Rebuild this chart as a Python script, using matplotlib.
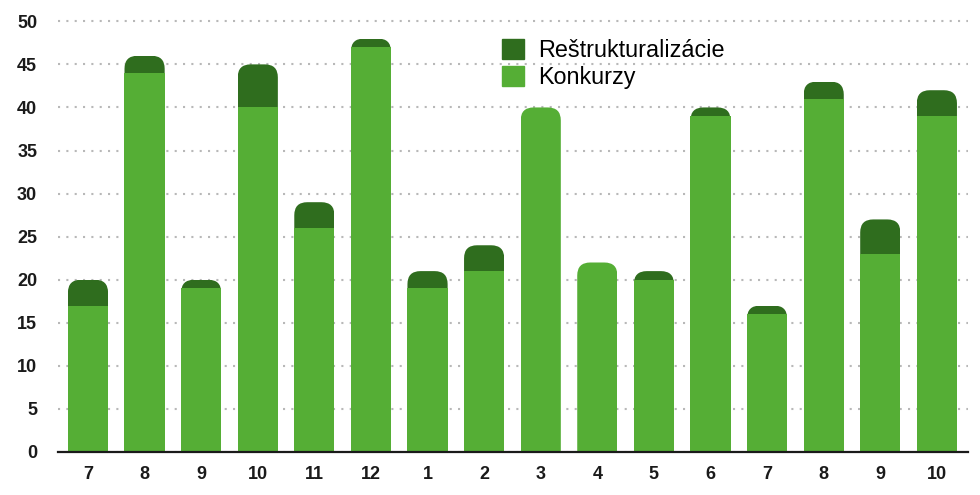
import matplotlib
matplotlib.use("Agg")
import matplotlib.pyplot as plt
from matplotlib.patches import FancyBboxPatch, Rectangle

months = ['7', '8', '9', '10', '11', '12', '1', '2', '3', '4', '5', '6', '7', '8', '9', '10']
konkurzy = [17, 44, 19, 40, 26, 47, 19, 21, 40, 22, 20, 39, 16, 41, 23, 39]
restrukturalizacie = [3, 2, 1, 5, 3, 1, 2, 3, 0, 0, 1, 1, 1, 2, 4, 3]
yticks = [0, 5, 10, 15, 20, 25, 30, 35, 40, 45, 50]

LIGHT = '#55ae35'
DARK = '#2f6d1e'

plt.rcParams['font.family'] = ['Liberation Sans', 'DejaVu Sans']

fig = plt.figure(figsize=(9.8, 4.95), dpi=100)
W, H = 980, 495
ax = fig.add_axes([58 / W, 1 - 452 / H, (968 - 58) / W, (452 - 17) / H])

x = list(range(len(months)))
ax.set_xlim(-0.53, 15.55)
ax.set_ylim(0, 50.5)

bars_k = ax.bar(x, konkurzy, width=0.71, color=LIGHT, zorder=3)
bars_r = ax.bar(x, restrukturalizacie, bottom=konkurzy, width=0.71, color=DARK, zorder=3)

# rounded top corners
fig.canvas.draw()
p0 = ax.transData.transform((0, 0))
p1 = ax.transData.transform((1, 1))
px_x = p1[0] - p0[0]
px_y = p1[1] - p0[1]
r_px = 13
rx = r_px / px_x
ry = r_px / px_y

def round_top(rect, color):
    xx, yy = rect.get_x(), rect.get_y()
    w, h = rect.get_width(), rect.get_height()
    fb = FancyBboxPatch((xx, yy - ry), w, h + ry,
                        boxstyle=f"round,pad=0,rounding_size={rx}",
                        mutation_aspect=ry / rx, facecolor=color,
                        edgecolor='none', zorder=3)
    ax.add_patch(fb)
    fb.set_clip_path(rect)
    rect.set_facecolor('none')

for rk, rr, r in zip(bars_k, bars_r, restrukturalizacie):
    if r > 0:
        round_top(rr, DARK)
    else:
        round_top(rk, LIGHT)

ax.set_yticks(yticks)
ax.set_xticks(x)
ax.set_xticklabels(months)
ax.tick_params(axis='both', length=0, labelsize=13, colors='#1a1a1a')
ax.tick_params(axis='y', pad=15)
ax.tick_params(axis='x', pad=10)
for lbl in ax.get_xticklabels() + ax.get_yticklabels():
    lbl.set_fontweight('bold')

ax.grid(axis='y', color='#b8b8b8', linestyle=(0, (1, 3)), linewidth=1.5, zorder=0)
ax.set_axisbelow(True)
for s in ['top', 'right', 'left']:
    ax.spines[s].set_visible(False)
ax.spines['bottom'].set_color('#1a1a1a')
ax.spines['bottom'].set_linewidth(1.6)
ax.spines['bottom'].set_zorder(4)

# white legend background
fig.patches.append(Rectangle((460 / W, 1 - 90 / H), (770 - 460) / W, (90 - 35) / H,
                             transform=fig.transFigure, facecolor='white',
                             edgecolor='none', zorder=1))
ax.set_zorder(2)
ax.patch.set_alpha(0)

handles = [Rectangle((0, 0), 1, 1, color=DARK), Rectangle((0, 0), 1, 1, color=LIGHT)]
leg = fig.legend(handles, ['Reštrukturalizácie', 'Konkurzy'],
                 loc='upper left', bbox_to_anchor=(500 / W, 1 - 37 / H),
                 frameon=False, fontsize=16.8, handlelength=0.93, handleheight=0.95,
                 labelspacing=0.15, handletextpad=0.62, borderpad=0.1, borderaxespad=0)

fig.savefig('out.png', dpi=100)
